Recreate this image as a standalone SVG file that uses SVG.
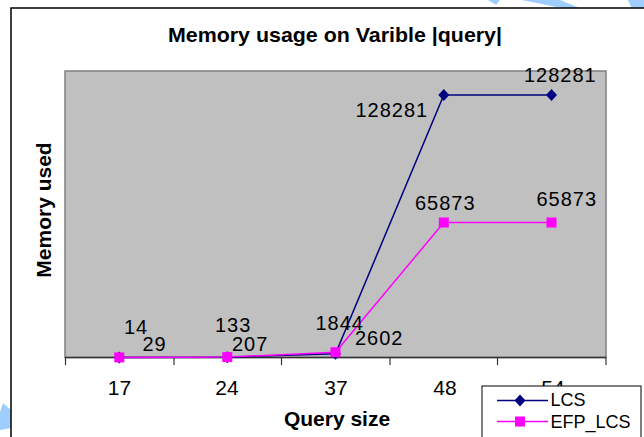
<svg xmlns="http://www.w3.org/2000/svg" width="644" height="437" viewBox="0 0 644 437">
  <style>
    .title { font-family: "Liberation Sans", Arial, sans-serif; font-weight: bold; font-size: 21px; fill: #000; }
    .axis-title { font-family: "Liberation Sans", Arial, sans-serif; font-weight: bold; font-size: 21px; fill: #000; text-anchor: middle; }
    .tick-label { font-family: "Liberation Sans", Arial, sans-serif; font-size: 21px; fill: #000; text-anchor: middle; }
    .value { font-family: "Liberation Sans", Arial, sans-serif; font-size: 20px; letter-spacing: 1px; fill: #000; }
    .legend-text { font-family: "Liberation Sans", Arial, sans-serif; font-size: 18px; fill: #000; }
    .lcs { fill: none; stroke: #000080; stroke-width: 1.5; }
    .efp { fill: none; stroke: #FF00FF; stroke-width: 1.5; }
    .deco { fill: #9ECEFF; }
  </style>
  <defs>
    <path id="diamond" d="M0,-6 L5.5,0 L0,6 L-5.5,0 Z" fill="#000080"/>
    <rect id="square" x="-5" y="-5" width="10" height="10" fill="#FF00FF"/>
  </defs>

  <rect width="644" height="437" fill="#FFFFFF"/>

  <!-- light blue page ornaments around the chart frame -->
  <g id="ornaments">
    <polygon class="deco" points="488,0 500,0 496,5"/>
    <polygon class="deco" points="522,0 560,0 582,9 566,9"/>
    <polygon class="deco" points="628,0 644,0 644,9 632,9"/>
    <polygon class="deco" points="0,412 3,403 11,410 11,428 0,430"/>
  </g>

  <!-- chart frame -->
  <g id="frame">
    <rect x="11" y="8" width="700" height="500" fill="#FFFFFF" stroke="#000" stroke-width="1.5"/>
  </g>

  <!-- title -->
  <g id="title">
    <text class="title" x="168" y="41.7" textLength="334" lengthAdjust="spacingAndGlyphs">Memory usage on Varible |query|</text>
  </g>

  <!-- plot area -->
  <g id="plot-area">
    <rect x="65" y="71" width="541" height="286.5" fill="#C0C0C0" stroke="#808080" stroke-width="1.5"/>
  </g>

  <!-- category axis -->
  <g id="x-axis">
    <line x1="65" y1="357.5" x2="606" y2="357.5" stroke="#333" stroke-width="1.5"/>
    <g stroke="#333" stroke-width="1.2">
      <line x1="65.5" y1="357.5" x2="65.5" y2="365"/>
      <line x1="174" y1="357.5" x2="174" y2="365"/>
      <line x1="281.5" y1="357.5" x2="281.5" y2="365"/>
      <line x1="390" y1="357.5" x2="390" y2="365"/>
      <line x1="497.5" y1="357.5" x2="497.5" y2="365"/>
      <line x1="606" y1="357.5" x2="606" y2="365"/>
    </g>
    <text class="tick-label" x="119.5" y="395">17</text>
    <text class="tick-label" x="227" y="395">24</text>
    <text class="tick-label" x="336" y="395">37</text>
    <text class="tick-label" x="445" y="395">48</text>
    <text class="tick-label" x="553" y="395">54</text>
    <text class="axis-title" x="337" y="426">Query size</text>
  </g>

  <!-- value axis title -->
  <g id="y-axis">
    <text class="axis-title" transform="translate(51,210) rotate(-90)">Memory used</text>
  </g>

  <!-- data series lines -->
  <g id="connectors">
    <polyline id="lcs-line" class="lcs" points="119.3,357.5 227.3,357.2 335.5,353.7 443.8,95 551.5,95"/>
    <polyline id="efp-line" class="efp" points="119.3,357.4 227.3,357.1 335.5,352.2 443.8,222.5 551.5,222.5"/>
  </g>

  <!-- LCS markers -->
  <g id="lcs-markers">
    <use href="#diamond" x="119.3" y="357.5"/>
    <use href="#diamond" x="227.3" y="357.2"/>
    <use href="#diamond" x="335.5" y="353.7"/>
    <use href="#diamond" x="443.8" y="95"/>
    <use href="#diamond" x="551.5" y="95"/>
  </g>

  <!-- EFP_LCS markers -->
  <g id="efp-markers">
    <use href="#square" x="119.3" y="357.4"/>
    <use href="#square" x="227.3" y="357.1"/>
    <use href="#square" x="335.5" y="352.2"/>
    <use href="#square" x="443.8" y="222.5"/>
    <use href="#square" x="551.5" y="222.5"/>
  </g>

  <!-- data labels -->
  <g id="data-labels">
    <text class="value" x="124" y="334">14</text>
    <text class="value" x="142.5" y="350.5">29</text>
    <text class="value" x="215" y="331.5">133</text>
    <text class="value" x="232" y="350.5">207</text>
    <text class="value" x="315.5" y="330">1844</text>
    <text class="value" x="355" y="345">2602</text>
    <text class="value" x="355.5" y="116.5">128281</text>
    <text class="value" x="524" y="81.5">128281</text>
    <text class="value" x="415" y="210">65873</text>
    <text class="value" x="536.5" y="205.5">65873</text>
  </g>

  <!-- legend -->
  <g id="legend">
    <rect x="482" y="386" width="159" height="60" fill="#FFFFFF" stroke="#000" stroke-width="1"/>
    <line class="lcs" x1="497" y1="400.5" x2="548" y2="400.5"/>
    <use href="#diamond" x="520" y="400.5"/>
    <text class="legend-text" x="550.5" y="406">LCS</text>
    <line class="efp" x1="497" y1="421.5" x2="548" y2="421.5"/>
    <use href="#square" x="520" y="421.5"/>
    <text class="legend-text" x="550.5" y="428">EFP_LCS</text>
  </g>
</svg>
